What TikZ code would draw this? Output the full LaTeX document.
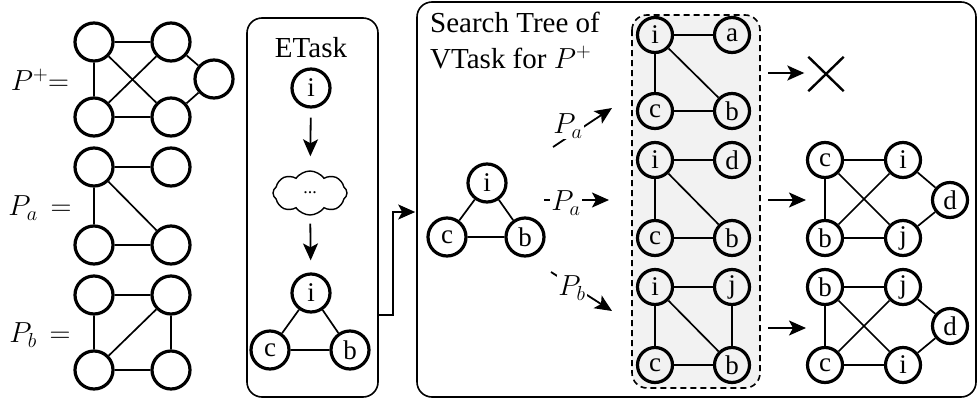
\RequirePackage{fix-cm}
\documentclass[tikz,border=0pt]{standalone}
\usepackage{fontspec}
\setmainfont{Liberation Serif}
\usetikzlibrary{arrows.meta,shapes.symbols,shapes.misc}

\begin{document}
\begin{tikzpicture}[x=1pt,y=-1pt,
  vtx/.style={circle,draw,line width=3.2pt,minimum size=38pt,inner sep=0pt,
              font=\fontsize{27}{27}\selectfont},
  svtx/.style={vtx,minimum size=35pt},
  edge/.style={line width=1.7pt},
  arr/.style={line width=1.8pt,-{Stealth[length=17pt,width=15pt,inset=4pt]}},
  panel/.style={draw,line width=1.6pt,rounded corners=15pt,inner sep=0pt},
  lbl/.style={font=\fontsize{29}{36}\selectfont},
  tag/.style={lbl,fill=white,inner sep=1pt},
]
\useasboundingbox (0,0) rectangle (977,402);

% ---------- patterns on the left ----------
\node[lbl] at (40,80) {$P^{+}{=}$};
\node[lbl] at (40,208) {$P_a\,=$};
\node[lbl] at (40,335) {$P_b\,=$};

\node[vtx] (p1) at (94,42) {};
\node[vtx] (p2) at (171,42) {};
\node[vtx] (p3) at (94,117) {};
\node[vtx] (p4) at (171,117) {};
\node[vtx] (p5) at (214,79) {};
\draw[edge] (p1)--(p2) (p1)--(p3) (p1)--(p4) (p2)--(p3) (p3)--(p4) (p2)--(p5) (p4)--(p5);

\node[vtx] (a1) at (94,167) {};
\node[vtx] (a2) at (171,167) {};
\node[vtx] (a3) at (94,245) {};
\node[vtx] (a4) at (171,245) {};
\draw[edge] (a1)--(a2) (a1)--(a3) (a1)--(a4) (a3)--(a4);

\node[vtx] (b1) at (94,295) {};
\node[vtx] (b2) at (171,295) {};
\node[vtx] (b3) at (94,370) {};
\node[vtx] (b4) at (171,370) {};
\draw[edge] (b1)--(b2) (b1)--(b3) (b3)--(b2) (b2)--(b4) (b3)--(b4);

% ---------- ETask panel ----------
\node[panel,minimum width=131pt,minimum height=379pt] (etask) at (312.5,207.5) {};
\node[lbl,anchor=base] at (311,57) {ETask};
\node[vtx] (e0) at (311,88) {i};
\node[cloud,draw,line width=1.4pt,cloud puffs=8,cloud puff arc=110,aspect=1.75,
      minimum width=74pt,minimum height=44pt,inner sep=0pt,
      font=\fontsize{18}{18}\selectfont] (cl) at (310,193) {...};
\node[vtx] (ei) at (311,293) {i};
\node[vtx] (ec) at (270,350) {c};
\node[vtx] (eb) at (350,350) {b};
\draw[edge] (ei)--(ec) (ei)--(eb) (ec)--(eb);
\draw[arr,shorten <=9pt,shorten >=14pt] (e0) -- (cl);
\draw[arr,shorten <=8pt,shorten >=12pt] (cl) -- (ei);

% ---------- search tree panel ----------
\node[panel,minimum width=559pt,minimum height=395pt] (stree) at (696.5,199.5) {};
\coordinate (eout) at (etask.east |- 0,315);
\draw[arr] (eout) -- ++(14,0) |- ([xshift=-1pt]stree.west |- 0,212);

\node[lbl,anchor=base west,inner sep=0pt] at (430,32) {Search Tree of};
\node[lbl,anchor=base west,inner sep=0pt] at (430,68) {VTask for $P^{+}$};

\node[vtx] (si) at (487,183) {i};
\node[vtx] (sc) at (447,237) {c};
\node[vtx] (sb) at (525,237) {b};
\draw[edge] (si)--(sc) (si)--(sb) (sc)--(sb);

% branch arrows, labels laid over them
\coordinate (u0) at (553,147); \coordinate (u1) at (612,108);
\coordinate (m0) at (544,200); \coordinate (m1) at (609,200);
\coordinate (d0) at (551,272); \coordinate (d1) at (612,311);
\draw[arr] (u0) -- (u1);
\draw[arr] (m0) -- (m1);
\draw[arr] (d0) -- (d1);
\node[tag] at (568,126) {$P_a$};
\node[tag] at (566,203) {$P_a$};
\node[tag] at (572,288) {$P_b$};

% candidate extensions
\fill[gray!10] (632,15) [rounded corners=15pt] rectangle (760,388);
\draw[dash pattern=on 6pt off 4pt,line width=1.6pt,rounded corners=15pt] (632,15) rectangle (760,388);

\node[svtx] (g1i) at (655,35) {i};
\node[svtx] (g1a) at (732,35) {a};
\node[svtx] (g1c) at (655,111) {c};
\node[svtx] (g1b) at (732,111) {b};
\draw[edge] (g1i)--(g1a) (g1i)--(g1c) (g1i)--(g1b) (g1c)--(g1b);

\node[svtx] (g2i) at (655,160) {i};
\node[svtx] (g2d) at (732,160) {d};
\node[svtx] (g2c) at (655,238) {c};
\node[svtx] (g2b) at (732,238) {b};
\draw[edge] (g2i)--(g2d) (g2i)--(g2c) (g2i)--(g2b) (g2c)--(g2b);

\node[svtx] (g3i) at (655,287) {i};
\node[svtx] (g3j) at (732,287) {j};
\node[svtx] (g3c) at (655,365) {c};
\node[svtx] (g3b) at (732,365) {b};
\draw[edge] (g3i)--(g3j) (g3i)--(g3c) (g3i)--(g3b) (g3j)--(g3b) (g3c)--(g3b);

% outcomes
\node[draw,cross out,line width=2.4pt,minimum width=33pt,minimum height=32pt,inner sep=0pt] (xx) at (826,74) {};
\coordinate (o1) at (768,73);
\coordinate (o2) at (768,200); \coordinate (t2) at (806,200);
\coordinate (o3) at (768,328); \coordinate (t3) at (806,328);
\draw[arr,shorten >=4pt] (o1) -- (xx.west |- o1);
\draw[arr] (o2) -- (t2);
\draw[arr] (o3) -- (t3);

\node[svtx] (r1c) at (825,160) {c};
\node[svtx] (r1i) at (903,160) {i};
\node[svtx] (r1d) at (950,200) {d};
\node[svtx] (r1b) at (825,238) {b};
\node[svtx] (r1j) at (903,238) {j};
\draw[edge] (r1c)--(r1i) (r1c)--(r1b) (r1c)--(r1j) (r1b)--(r1i) (r1b)--(r1j) (r1i)--(r1d) (r1j)--(r1d);

\node[svtx] (r2b) at (825,287) {b};
\node[svtx] (r2j) at (903,287) {j};
\node[svtx] (r2d) at (950,326) {d};
\node[svtx] (r2c) at (825,365) {c};
\node[svtx] (r2i) at (903,365) {i};
\draw[edge] (r2b)--(r2j) (r2b)--(r2c) (r2b)--(r2i) (r2c)--(r2j) (r2c)--(r2i) (r2j)--(r2d) (r2i)--(r2d);
\end{tikzpicture}
\end{document}
